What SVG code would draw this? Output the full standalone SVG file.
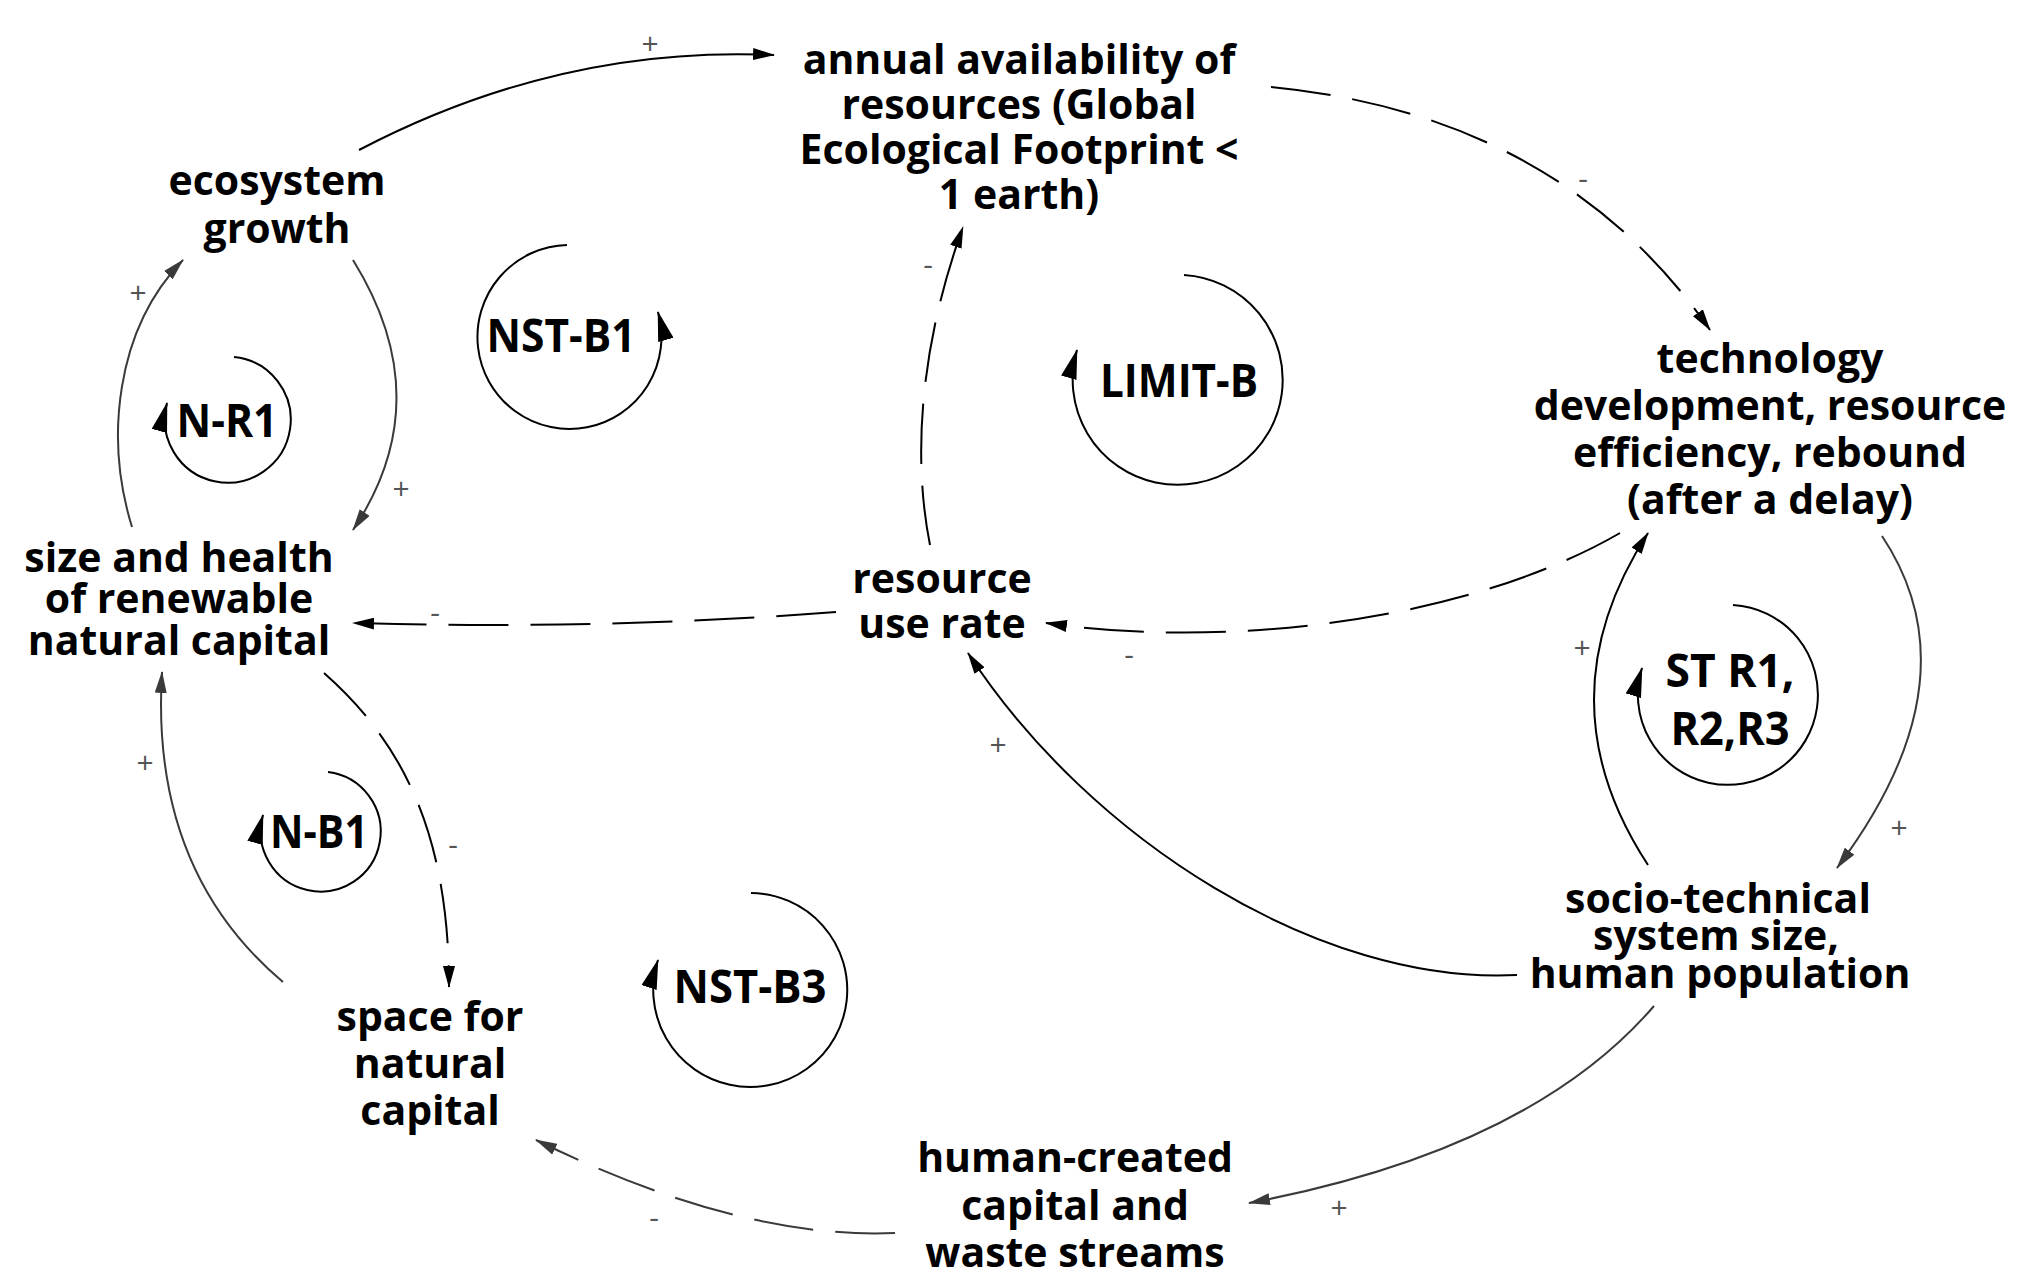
<svg xmlns="http://www.w3.org/2000/svg" width="2022" height="1277" viewBox="0 0 2022 1277">
<style>
.bg{fill:#fff}
.t{font-family:"Open Sans","Noto Sans","DejaVu Sans",sans-serif;font-weight:700;font-size:41px;fill:#000;text-anchor:middle}
.lp{font-family:"Open Sans","Noto Sans","DejaVu Sans",sans-serif;font-weight:700;font-size:46px;fill:#000;text-anchor:middle}
.s{font-family:"Open Sans","Noto Sans","DejaVu Sans",sans-serif;font-size:30px;fill:#555;text-anchor:middle}
.c{fill:none;stroke:#000;stroke-width:2}
.g{stroke:#3a3a3a}
.n{stroke-dasharray:60 22}
.arc{fill:none;stroke:#000;stroke-width:2;marker-end:url(#al)}
</style>
<defs>
<marker id="a" viewBox="0 0 22 12" refX="21" refY="6" markerWidth="22" markerHeight="12" markerUnits="userSpaceOnUse" orient="auto"><path d="M0,0 L22,6 L0,12 Z" fill="#000"/></marker>
<marker id="ag" viewBox="0 0 22 12" refX="21" refY="6" markerWidth="22" markerHeight="12" markerUnits="userSpaceOnUse" orient="auto"><path d="M0,0 L22,6 L0,12 Z" fill="#3a3a3a"/></marker>
<marker id="al" viewBox="0 0 30 16" refX="29" refY="8" markerWidth="30" markerHeight="16" markerUnits="userSpaceOnUse" orient="auto"><path d="M0,0 L30,8 L0,16 Z" fill="#000"/></marker>
</defs>
<rect class="bg" x="0" y="0" width="2022" height="1277"/>

<g id="connectors">
  <path id="c1" class="c" d="M359,150 Q560,45 774,55" marker-end="url(#a)"/>
  <path id="c2" class="c n" d="M1271,87 Q1560,115 1710,330" marker-end="url(#a)"/>
  <path id="c3" class="c n" d="M930,545 C915,470 915,360 963,227" marker-end="url(#a)"/>
  <path id="c4" class="c n" d="M836,612 Q600,630 353,623" marker-end="url(#a)"/>
  <path id="c5" class="c n" d="M1620,533 C1470,620 1230,650 1046,623" marker-end="url(#a)"/>
  <path id="c6" class="c" d="M1517,975 C1320,985 1090,840 968,653" marker-end="url(#a)"/>
  <path id="c7" class="c" d="M1648,865 Q1540,700 1648,533" marker-end="url(#a)"/>
  <path id="c8" class="c g" d="M1882,536 Q1978,680 1837,868" marker-end="url(#ag)"/>
  <path id="c9" class="c g" d="M1654,1006 Q1530,1150 1249,1203" marker-end="url(#ag)"/>
  <path id="c10" class="c g n" d="M895,1233 Q740,1240 536,1140" marker-end="url(#ag)"/>
  <path id="c11" class="c n" d="M324,673 C400,740 449,830 449,987" marker-end="url(#a)"/>
  <path id="c12" class="c g" d="M283,982 Q150,870 162,672" marker-end="url(#ag)"/>
  <path id="c13" class="c g" d="M132,527 C105,440 115,330 183,260" marker-end="url(#ag)"/>
  <path id="c14" class="c g" d="M353,260 Q440,400 353,530" marker-end="url(#ag)"/>
  <g id="signs">
    <text class="s" x="650" y="54">+</text>
    <text class="s" x="1583" y="189">-</text>
    <text class="s" x="928" y="275">-</text>
    <text class="s" x="435" y="623">-</text>
    <text class="s" x="1129" y="665">-</text>
    <text class="s" x="998" y="755">+</text>
    <text class="s" x="1582" y="658">+</text>
    <text class="s" x="1899" y="838">+</text>
    <text class="s" x="1339" y="1218">+</text>
    <text class="s" x="654" y="1228">-</text>
    <text class="s" x="453" y="855">-</text>
    <text class="s" x="145" y="773">+</text>
    <text class="s" x="138" y="303">+</text>
    <text class="s" x="401" y="499">+</text>
  </g>
</g>

<g id="annual-availability">
  <text class="t" x="1019" y="74">annual availability of<tspan x="1019" dy="45">resources (Global</tspan><tspan x="1019" dy="45">Ecological Footprint &lt;</tspan><tspan x="1019" dy="45">1 earth)</tspan></text>
</g>
<g id="ecosystem-growth">
  <text class="t" x="277" y="195">ecosystem<tspan x="277" dy="48">growth</tspan></text>
</g>
<g id="size-health">
  <text class="t" x="179" y="572">size and health<tspan x="179" dy="41">of renewable</tspan><tspan x="179" dy="42">natural capital</tspan></text>
</g>
<g id="resource-use-rate">
  <text class="t" x="942" y="593">resource<tspan x="942" dy="45">use rate</tspan></text>
</g>
<g id="technology">
  <text class="t" x="1770" y="373">technology<tspan x="1770" dy="47">development, resource</tspan><tspan x="1770" dy="47">efficiency, rebound</tspan><tspan x="1770" dy="47">(after a delay)</tspan></text>
</g>
<g id="socio-technical">
  <text class="t" x="1718" y="913">socio-technical<tspan x="1716" dy="37">system size,</tspan><tspan x="1720" dy="38">human population</tspan></text>
</g>
<g id="space-natural-capital">
  <text class="t" x="430" y="1031">space for<tspan x="430" dy="47">natural</tspan><tspan x="430" dy="47">capital</tspan></text>
</g>
<g id="human-created">
  <text class="t" x="1075" y="1172">human-created<tspan x="1075" dy="48">capital and</tspan><tspan x="1075" dy="47">waste streams</tspan></text>
</g>

<g id="loop-nst-b1">
  <path class="arc" d="M567,245 A92,92 0 1 0 658,312"/>
  <text class="lp" x="561" y="352" textLength="149" lengthAdjust="spacingAndGlyphs">NST-B1</text>
</g>
<g id="loop-limit-b">
  <path class="arc" d="M1184,275 A105,105 0 1 1 1077,350"/>
  <text class="lp" x="1179" y="397" textLength="158" lengthAdjust="spacingAndGlyphs">LIMIT-B</text>
</g>
<g id="loop-n-r1">
  <path class="arc" d="M234,357 A63,63 0 1 1 167,403"/>
  <text class="lp" x="227" y="437" textLength="101" lengthAdjust="spacingAndGlyphs">N-R1</text>
</g>
<g id="loop-n-b1">
  <path class="arc" d="M328,772 A60,60 0 1 1 263,815"/>
  <text class="lp" x="319" y="848" textLength="98" lengthAdjust="spacingAndGlyphs">N-B1</text>
</g>
<g id="loop-nst-b3">
  <path class="arc" d="M751,893 A97,97 0 1 1 658,960"/>
  <text class="lp" x="750" y="1003" textLength="153" lengthAdjust="spacingAndGlyphs">NST-B3</text>
</g>
<g id="loop-st">
  <path class="arc" d="M1733,605 A90,90 0 1 1 1642,668"/>
  <text class="lp" x="1730" y="687"><tspan textLength="129" lengthAdjust="spacingAndGlyphs">ST R1,</tspan><tspan x="1730" dy="58" textLength="119" lengthAdjust="spacingAndGlyphs">R2,R3</tspan></text>
</g>
</svg>
